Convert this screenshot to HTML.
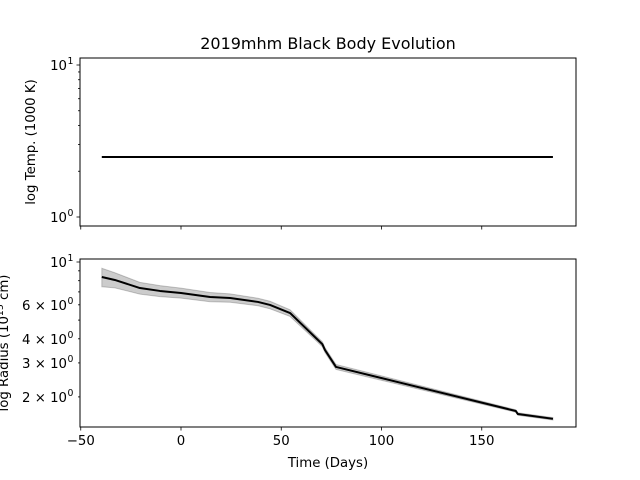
<!DOCTYPE html>
<html><head><meta charset="utf-8"><style>
html,body{margin:0;padding:0;background:#fff;}
svg{display:block;font-family:"DejaVu Sans","Liberation Sans",sans-serif;}
</style></head><body>
<svg id="chart" width="640" height="480" viewBox="0 0 640 480"></svg>
<script>
const days = [-39.5,-33,-20.5,-10.5,0,14.5,24.5,38.4,44.4,54.4,67.8,70.5,71.8,77.3,167,168,185.5];
const radius = [8.36,8.07,7.33,7.08,6.91,6.59,6.51,6.21,5.99,5.44,3.99,3.75,3.50,2.86,1.69,1.63,1.54];
const radiusErrFrac = [0.11,0.09,0.07,0.065,0.06,0.055,0.05,0.045,0.045,0.04,0.03,0.03,0.03,0.03,0.015,0.015,0.015];
const tempDays = [-39.5,185.5];
const temp = [2.48,2.48];
const xTicks = [-50,0,50,100,150];
const radMajor = [10];
const radLabeled = [6,4,3,2];
const radLabels = ["6 × 10","4 × 10","3 × 10","2 × 10"];
const tempMajor = [1,10];

const NS="http://www.w3.org/2000/svg";
const svg=document.getElementById('chart');
function mk(tag,attrs,parent){const e=document.createElementNS(NS,tag);for(const k in attrs)e.setAttribute(k,attrs[k]);(parent||svg).appendChild(e);return e;}
const L=80,R=576;
const FS=13.3, SS=9.3;
const x=d=>181+d*2.005;
const yT=v=>217-Math.log10(v)*152;
const yR=v=>262+(1-Math.log10(v))*193;

let t=mk('text',{x:328,y:49,'text-anchor':'middle','font-size':16});t.textContent='2019mhm Black Body Evolution';



// ---- top panel
let g1=mk('g',{});


let tp=tempDays.map((d,i)=>x(d)+','+yT(temp[i])).join(' ');
let tl=mk('polyline',{points:tp,fill:'none',stroke:'#000','stroke-width':2},g1);


let f1=mk('rect',{x:L,y:58,width:R-L,height:168,fill:'none',stroke:'#000','stroke-width':1},g1);


for(let m=2;m<=9;m++){mk('line',{x1:L,x2:L-2,y1:yT(m),y2:yT(m),stroke:'#000','stroke-width':0.8},g1);}
tempMajor.forEach((v,i)=>{mk('line',{x1:L,x2:L-3.5,y1:yT(v),y2:yT(v),stroke:'#000','stroke-width':0.8},g1);
 let tx=mk('text',{x:67,y:yT(v)+5,'text-anchor':'end','font-size':FS},g1);tx.textContent='10';
 let sp=mk('text',{x:67.5,y:yT(v)-1,'font-size':SS},g1);sp.textContent=i==0?'0':'1';
 
 });
xTicks.forEach(d=>mk('line',{x1:x(d),x2:x(d),y1:226,y2:229.5,stroke:'#000','stroke-width':0.8},g1));
let yl1=mk('text',{transform:'translate(35,142) rotate(-90)','text-anchor':'middle','font-size':FS},g1);yl1.textContent='log Temp. (1000 K)';



// ---- bottom panel
let g2=mk('g',{});


let up=days.map((d,i)=>x(d)+','+yR(radius[i]*(1+radiusErrFrac[i])));
let lo=days.map((d,i)=>x(d)+','+yR(radius[i]*(1-radiusErrFrac[i]))).reverse();
let band=mk('polygon',{points:up.concat(lo).join(' '),fill:'#000','fill-opacity':0.2,stroke:'#000','stroke-opacity':0.2,'stroke-width':1},g2);


let rl=mk('polyline',{points:days.map((d,i)=>x(d)+','+yR(radius[i])).join(' '),fill:'none',stroke:'#000','stroke-width':2,'stroke-linejoin':'round'},g2);


let f2=mk('rect',{x:L,y:259,width:R-L,height:168,fill:'none',stroke:'#000','stroke-width':1},g2);


for(let m=2;m<=9;m++){mk('line',{x1:L,x2:L-2,y1:yR(m),y2:yR(m),stroke:'#000','stroke-width':0.8},g2);}
radMajor.forEach(v=>{mk('line',{x1:L,x2:L-3.5,y1:yR(v),y2:yR(v),stroke:'#000','stroke-width':0.8},g2);
 let tx=mk('text',{x:67,y:yR(v)+5,'text-anchor':'end','font-size':FS},g2);tx.textContent='10';
 let sp=mk('text',{x:67.5,y:yR(v)-1,'font-size':SS},g2);sp.textContent='1';
 
 });
radLabeled.forEach((v,i)=>{let tx=mk('text',{x:67,y:yR(v)+5,'text-anchor':'end','font-size':FS},g2);tx.textContent=radLabels[i];
 let sp=mk('text',{x:67.5,y:yR(v)-1,'font-size':SS},g2);sp.textContent='0';
 
 });
xTicks.forEach(d=>{mk('line',{x1:x(d),x2:x(d),y1:427,y2:430.5,stroke:'#000','stroke-width':0.8},g2);
 let tx=mk('text',{x:x(d),y:445,'text-anchor':'middle','font-size':FS},g2);tx.textContent=d<0?'−'+(-d):String(d);
 
 });
let xl=mk('text',{x:328,y:467,'text-anchor':'middle','font-size':FS},g2);xl.textContent='Time (Days)';


let yl2=mk('text',{transform:'translate(8,343) rotate(-90)','text-anchor':'middle','font-size':FS},g2);
yl2.innerHTML='log Radius (10<tspan dy="-5" font-size="9.3">15</tspan><tspan dy="5"> cm)</tspan>';


</script>
</body></html>
